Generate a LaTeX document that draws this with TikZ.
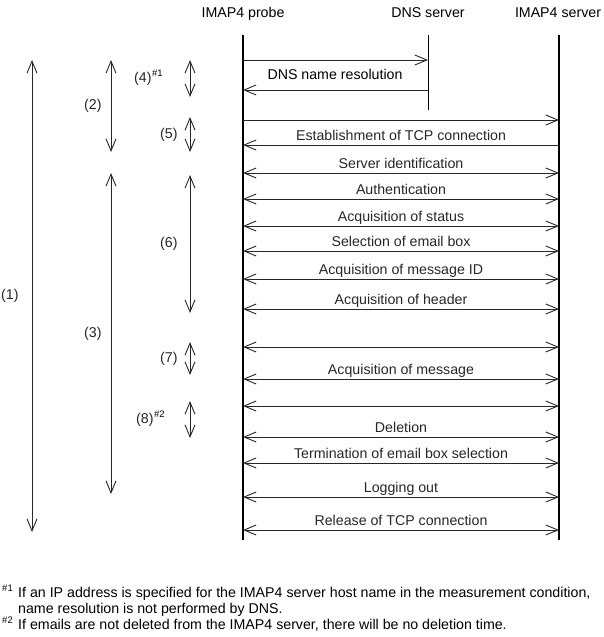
\documentclass[tikz,border=0pt]{standalone}
\usepackage{fontspec}
\setmainfont{Liberation Sans}
\usepackage{tikz}
\usetikzlibrary{arrows.meta,positioning}

\newcommand\hashmark[1]{\raisebox{5.5pt}{\fontsize{9.5}{10}\selectfont\##1}}

\begin{document}
\begin{tikzpicture}[x=1pt, y=-1pt, font=\fontsize{14.2}{17}\selectfont,
    >={Straight Barb[length=12pt,width=10pt]},
    life/.style={line width=2pt},
    thinlife/.style={line width=1pt},
    msg/.style={line width=0.9pt, black!85},
    lbl/.style={anchor=base, yshift=5pt, inner sep=0pt},
    span/.style={line width=0.9pt, black!85, <->}]
    \useasboundingbox (0,0) rectangle (603,637);

    % heads and lifelines
    \node[anchor=base] (probe) at (243,17) {IMAP4 probe};
    \node[anchor=base] (dns) at (428,17) {DNS server};
    \node[anchor=base] (server) at (558,17) {IMAP4 server};
    \coordinate (probetop) at (243,35);
    \coordinate (probebot) at (243,540);
    \coordinate (dnstop) at (428,35);
    \coordinate (dnsbot) at (428,110);
    \coordinate (servertop) at (559,35);
    \coordinate (serverbot) at (559,540);
    \draw[life] (probetop) -- (probebot);
    \draw[thinlife] (dnstop) -- (dnsbot);
    \draw[life] (servertop) -- (serverbot);

    % DNS and TCP set-up
    \draw[msg, ->] (probetop |- 0,60) -- (dnstop |- 0,60);
    \draw[msg, <-] (probetop |- 0,90) -- (dnstop |- 0,90);
    \node[anchor=base] (dnslbl) at (335,79) {DNS name resolution};
    \draw[msg, ->] (probetop |- 0,120) -- (servertop |- 0,120);
    \draw[msg, <-] (probetop |- 0,145) -- node[lbl] {Establishment of TCP connection} (servertop |- 0,145);

    % exchanges
    \foreach \y/\txt in {173/Server identification, 199/Authentication, 226/Acquisition of status,
        251/Selection of email box, 279/Acquisition of message ID, 309/Acquisition of header,
        347/{}, 379/Acquisition of message, 406/{}, 437/Deletion,
        463/Termination of email box selection, 497/Logging out, 530/Release of TCP connection}
        \draw[msg, <->] (probetop |- 0,\y) -- node[lbl] {\txt} (servertop |- 0,\y);

    % measured spans
    \foreach \n/\x/\ya/\yb/\g/\txt in {1/32/60/532/13/(1), 2/111/60/152/9/(2), 3/111/173/494/9/(3),
        4/190/60/97/38/{(4)}, 5/190/117/152/12/(5), 6/190/175/313/12/(6),
        7/190/342/375/12/(7), 8/190/401/438/36/{(8)}}{
        \coordinate (span\n top) at (\x,\ya);
        \coordinate (span\n bot) at (\x,\yb);
        \draw[span] (span\n top) -- node[left=\g pt, inner sep=0pt] (spanlbl\n) {\txt} (span\n bot);
    }
    \node[anchor=base west, inner sep=0pt] at (spanlbl4.base east) {\hashmark{1}};
    \node[anchor=base west, inner sep=0pt] at (spanlbl8.base east) {\hashmark{2}};

    % notes
    \node[anchor=base west, inner sep=0pt] (note1) at (18,597) {If an IP address is specified for the IMAP4 server host name in the measurement condition,};
    \node[anchor=base west, inner sep=0pt] (note1b) at (18,613) {name resolution is not performed by DNS.};
    \node[anchor=base west, inner sep=0pt] (note2) at (18,629) {If emails are not deleted from the IMAP4 server, there will be no deletion time.};
    \node[anchor=base east, inner sep=0pt, xshift=-5pt] at (note1.base west) {\hashmark{1}};
    \node[anchor=base east, inner sep=0pt, xshift=-5pt] at (note2.base west) {\hashmark{2}};
\end{tikzpicture}
\end{document}
